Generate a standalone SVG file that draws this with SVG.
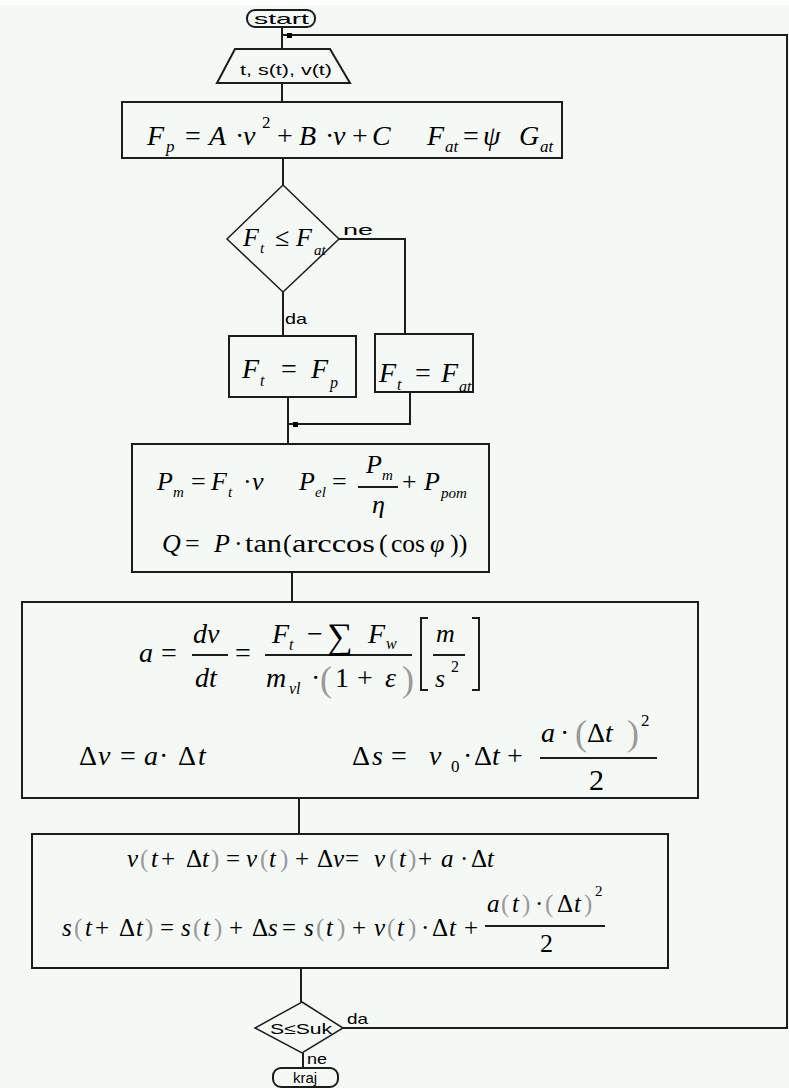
<svg xmlns="http://www.w3.org/2000/svg" width="789" height="1088" viewBox="0 0 789 1088">
<style>
.ln{stroke:#1c1c1c;stroke-width:2;fill:none}
.bx{stroke:#1c1c1c;stroke-width:2;fill:none}
.dm{stroke:#1c1c1c;stroke-width:1.5;fill:none}
.lb{font-family:"Liberation Sans",Arial,sans-serif;font-size:15px;fill:#000}
.mi{font-family:"Liberation Serif","Times New Roman",serif;font-style:italic;fill:#000}
.up{font-style:normal}
.gp{font-style:normal;fill:#9a9a9a}
</style>
<rect x="0" y="0" width="789" height="1088" fill="#ffffff"/>
<rect x="0" y="5" width="789" height="1083" fill="#f5f9f6"/>

<g id="connectors">
<path class="ln" d="M282 27V49"/>
<path class="ln" d="M282 83V102"/>
<path class="ln" d="M283 158V185"/>
<path class="ln" d="M283 292V336"/>
<path class="ln" d="M339 239H405V334"/>
<path class="ln" d="M288 397V444"/>
<path class="ln" d="M410 392V424H288"/>
<rect x="293" y="422" width="5" height="5" fill="#000"/>
<path class="ln" d="M292 572V602"/>
<path class="ln" d="M299 798V834"/>
<path class="ln" d="M301 968V1002"/>
<path class="ln" d="M303 1053V1068"/>
<path class="ln" d="M343 1028H787V35H282"/>
<rect x="287" y="33" width="5" height="5" fill="#000"/>
<text class="lb" x="343" y="235" font-size="17" textLength="30" lengthAdjust="spacingAndGlyphs">ne</text>
<text class="lb" x="285" y="324" font-size="15" textLength="22" lengthAdjust="spacingAndGlyphs">da</text>
<text class="lb" x="347" y="1024" font-size="15" textLength="21" lengthAdjust="spacingAndGlyphs">da</text>
<text class="lb" x="307" y="1064" font-size="15" textLength="20" lengthAdjust="spacingAndGlyphs">ne</text>
</g>

<g id="start">
<rect class="bx" x="247" y="10" width="68" height="17" rx="8"/>
<text class="lb" x="254" y="24" font-size="16" textLength="55" lengthAdjust="spacingAndGlyphs">start</text>
</g>

<g id="input">
<polygon class="bx" points="235,49 330,49 350,83 217,83"/>
<text class="lb" x="240" y="75" font-size="17" textLength="92" lengthAdjust="spacingAndGlyphs">t, s(t), v(t)</text>
</g>

<g id="box1">
<rect class="bx" x="122" y="102" width="440" height="56"/>
<text class="mi" font-size="28" y="145"><tspan x="147">F</tspan><tspan x="166" y="152" font-size="17">p</tspan><tspan x="185" y="145" class="up">=</tspan><tspan x="209">A</tspan><tspan x="235" class="up">·</tspan><tspan x="243">v</tspan><tspan x="262" y="128" font-size="17" class="up">2</tspan><tspan x="277" y="145" class="up">+</tspan><tspan x="299">B</tspan><tspan x="325" class="up">·</tspan><tspan x="333">v</tspan><tspan x="352" class="up">+</tspan><tspan x="372">C</tspan><tspan x="427">F</tspan><tspan x="445" y="152" font-size="17">at</tspan><tspan x="463" y="145" class="up">=</tspan><tspan x="483">ψ</tspan><tspan x="519">G</tspan><tspan x="540" y="152" font-size="17">at</tspan></text>
</g>

<g id="decision1">
<polygon class="dm" points="283,185 339,239 283,292 227,239"/>
<text class="mi" font-size="26" y="246"><tspan x="243">F</tspan><tspan x="260" y="253" font-size="15">t</tspan><tspan x="275" y="246" class="up">≤</tspan><tspan x="296">F</tspan><tspan x="314" y="255" font-size="15">at</tspan></text>
</g>

<g id="box2a">
<rect class="bx" x="229" y="336" width="127" height="61"/>
<text class="mi" font-size="28" y="378"><tspan x="242">F</tspan><tspan x="260" y="386" font-size="16">t</tspan><tspan x="281" y="378" class="up">=</tspan><tspan x="311">F</tspan><tspan x="330" y="388" font-size="16">p</tspan></text>
</g>

<g id="box2b">
<rect class="bx" x="375" y="334" width="98" height="58"/>
<text class="mi" font-size="28" y="382"><tspan x="379">F</tspan><tspan x="397" y="390" font-size="16">t</tspan><tspan x="415" y="382" class="up">=</tspan><tspan x="441">F</tspan><tspan x="459" y="392" font-size="16">at</tspan></text>
</g>

<g id="box3">
<rect class="bx" x="132" y="444" width="357" height="128"/>
<text class="mi" font-size="26" y="490"><tspan x="157">P</tspan><tspan x="173" y="497" font-size="15">m</tspan><tspan x="191" y="490" class="up">=</tspan><tspan x="211">F</tspan><tspan x="228" y="497" font-size="15">t</tspan><tspan x="243" y="490" class="up">·</tspan><tspan x="252">v</tspan><tspan x="299">P</tspan><tspan x="315" y="497" font-size="15">el</tspan><tspan x="332" y="490" class="up">=</tspan><tspan x="402" class="up">+</tspan><tspan x="424">P</tspan><tspan x="441" y="498" font-size="15">pom</tspan></text>
<text class="mi" font-size="26" y="473"><tspan x="366">P</tspan><tspan x="382" y="480" font-size="15">m</tspan></text>
<path class="ln" stroke-width="1.5" d="M358 487H398"/>
<text class="mi" font-size="26" x="372" y="513">η</text>
<text class="mi" font-size="26" y="552"><tspan x="162">Q</tspan><tspan x="185" class="up">=</tspan><tspan x="214">P</tspan><tspan x="234" class="up">·</tspan></text>
<text class="mi up" font-size="26" x="245" y="552" textLength="37" lengthAdjust="spacingAndGlyphs">tan</text>
<text class="mi up" font-size="26" x="283" y="552">(</text>
<text class="mi up" font-size="26" x="292" y="552" textLength="83" lengthAdjust="spacingAndGlyphs">arccos</text>
<text class="mi up" font-size="26" x="379" y="552">(</text>
<text class="mi up" font-size="26" x="391" y="552" textLength="34" lengthAdjust="spacingAndGlyphs">cos</text>
<text class="mi" font-size="26" x="430" y="552">φ</text>
<text class="mi up" font-size="26" x="450" y="552">))</text>
</g>

<g id="box4">
<rect class="bx" x="22" y="602" width="676" height="196"/>
<text class="mi" font-size="28" y="662"><tspan x="139">a</tspan><tspan x="161" class="up">=</tspan><tspan x="235" class="up">=</tspan></text>
<text class="mi" font-size="28" x="193" y="643">dv</text>
<path class="ln" stroke-width="1.5" d="M192 655H228"/>
<text class="mi" font-size="28" x="195" y="687">dt</text>
<path class="ln" stroke-width="1.5" d="M265 655H412"/>
<text class="mi" font-size="28" y="643"><tspan x="272">F</tspan><tspan x="289" y="650" font-size="16">t</tspan><tspan x="307" y="643" class="up">−</tspan><tspan x="327" y="648" font-size="36" class="up">∑</tspan><tspan x="368" y="643">F</tspan><tspan x="386" y="649" font-size="16">w</tspan></text>
<text class="mi" font-size="28" y="687"><tspan x="266">m</tspan><tspan x="289" y="694" font-size="16">vl</tspan><tspan x="311" y="687" class="up">·</tspan><tspan x="320" y="691" font-size="36" class="gp">(</tspan><tspan x="335" y="687" class="up">1</tspan><tspan x="357" class="up">+</tspan><tspan x="385">ε</tspan><tspan x="402" y="691" font-size="36" class="gp">)</tspan></text>
<path class="ln" stroke-width="1.5" d="M428 618H421V690H428M472 618H479V690H472"/>
<text class="mi" font-size="26" x="436" y="642">m</text>
<path class="ln" stroke-width="1.5" d="M433 655H465"/>
<text class="mi" font-size="26" y="687"><tspan x="435">s</tspan><tspan x="451" y="672" font-size="16" class="up">2</tspan></text>
<text class="mi" font-size="28" y="765"><tspan x="79" class="up">Δ</tspan><tspan x="98">v</tspan><tspan x="120" class="up">=</tspan><tspan x="144">a</tspan><tspan x="159" class="up">·</tspan><tspan x="178" class="up">Δ</tspan><tspan x="198">t</tspan></text>
<text class="mi" font-size="28" y="765"><tspan x="352" class="up">Δ</tspan><tspan x="372">s</tspan><tspan x="391" class="up">=</tspan><tspan x="429">v</tspan><tspan x="451" y="772" font-size="17" class="up">0</tspan><tspan x="463" y="765" class="up">·</tspan><tspan x="474" class="up">Δ</tspan><tspan x="492">t</tspan><tspan x="507" class="up">+</tspan></text>
<path class="ln" stroke-width="1.5" d="M540 758H657"/>
<text class="mi" font-size="28" y="742"><tspan x="541">a</tspan><tspan x="560" class="up">·</tspan><tspan x="575" y="745" font-size="36" class="gp">(</tspan><tspan x="587" y="742" class="up">Δ</tspan><tspan x="605">t</tspan><tspan x="627" y="745" font-size="36" class="gp">)</tspan><tspan x="641" y="726" font-size="17" class="up">2</tspan></text>
<text class="mi up" font-size="30" x="589" y="790">2</text>
</g>

<g id="box5">
<rect class="bx" x="32" y="834" width="636" height="134"/>
<text class="mi" font-size="25" y="867"><tspan x="127">v</tspan><tspan x="140" class="gp">(</tspan><tspan x="151">t</tspan><tspan x="161" class="up">+</tspan><tspan x="186" class="up">Δ</tspan><tspan x="202">t</tspan><tspan x="211" class="gp">)</tspan><tspan x="226" class="up">=</tspan><tspan x="246">v</tspan><tspan x="260" class="gp">(</tspan><tspan x="269">t</tspan><tspan x="280" class="gp">)</tspan><tspan x="295" class="up">+</tspan><tspan x="317" class="up">Δ</tspan><tspan x="333">v</tspan><tspan x="345" class="up">=</tspan><tspan x="374">v</tspan><tspan x="389" class="gp">(</tspan><tspan x="399">t</tspan><tspan x="408" class="gp">)</tspan><tspan x="418" class="up">+</tspan><tspan x="441">a</tspan><tspan x="460" class="up">·</tspan><tspan x="471" class="up">Δ</tspan><tspan x="487">t</tspan></text>
<text class="mi" font-size="25" y="936"><tspan x="62">s</tspan><tspan x="74" class="gp">(</tspan><tspan x="85">t</tspan><tspan x="95" class="up">+</tspan><tspan x="119" class="up">Δ</tspan><tspan x="136">t</tspan><tspan x="145" class="gp">)</tspan><tspan x="160" class="up">=</tspan><tspan x="181">s</tspan><tspan x="193" class="gp">(</tspan><tspan x="203">t</tspan><tspan x="214" class="gp">)</tspan><tspan x="229" class="up">+</tspan><tspan x="252" class="up">Δ</tspan><tspan x="268">s</tspan><tspan x="282" class="up">=</tspan><tspan x="304">s</tspan><tspan x="316" class="gp">(</tspan><tspan x="326">t</tspan><tspan x="337" class="gp">)</tspan><tspan x="352" class="up">+</tspan><tspan x="374">v</tspan><tspan x="387" class="gp">(</tspan><tspan x="397">t</tspan><tspan x="408" class="gp">)</tspan><tspan x="421" class="up">·</tspan><tspan x="432" class="up">Δ</tspan><tspan x="449">t</tspan><tspan x="464" class="up">+</tspan></text>
<path class="ln" stroke-width="1.5" d="M485 926H605"/>
<text class="mi" font-size="25" y="912"><tspan x="487">a</tspan><tspan x="501" class="gp">(</tspan><tspan x="512">t</tspan><tspan x="522" class="gp">)</tspan><tspan x="535" class="up">·</tspan><tspan x="545" class="gp">(</tspan><tspan x="557" class="up">Δ</tspan><tspan x="574">t</tspan><tspan x="584" class="gp">)</tspan><tspan x="595" y="896" font-size="15" class="up">2</tspan></text>
<text class="mi up" font-size="26" x="540" y="952">2</text>
</g>

<g id="decision2">
<polygon class="dm" points="302,1002 343,1028 302,1053 255,1028"/>
<text class="lb" x="270" y="1034" font-size="14" textLength="62" lengthAdjust="spacingAndGlyphs">S≤Suk</text>
</g>

<g id="end">
<rect class="bx" x="273" y="1068" width="65" height="19" rx="8"/>
<text class="lb" x="305" y="1083" font-size="14" text-anchor="middle">kraj</text>
</g>
</svg>
